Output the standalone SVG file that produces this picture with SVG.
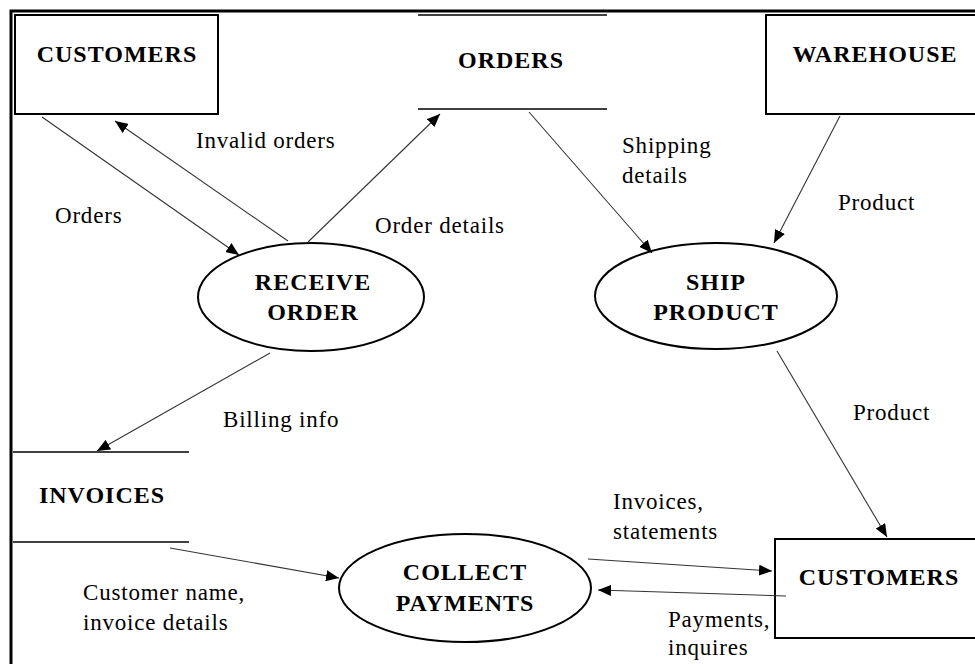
<svg xmlns="http://www.w3.org/2000/svg" width="975" height="664" viewBox="0 0 975 664">
  <style>
    .frame { stroke: #000; stroke-width: 3; fill: none; }
    .entity { fill: #fff; stroke: #000; stroke-width: 2; }
    .store { stroke: #000; stroke-width: 1.3; fill: none; }
    .process { fill: #fff; stroke: #000; stroke-width: 2; }
    .flow { stroke: #333; stroke-width: 1.1; fill: none; marker-end: url(#arrow); }
    .title { font-family: "Liberation Serif", "Times New Roman", serif; font-weight: bold; font-size: 24px; letter-spacing: 1px; fill: #000; text-anchor: middle; }
    .label { font-family: "Liberation Serif", "Times New Roman", serif; font-size: 23px; letter-spacing: 0.8px; fill: #000; }
  </style>
  <defs>
    <marker id="arrow" markerUnits="userSpaceOnUse" markerWidth="13" markerHeight="11" refX="13" refY="5.5" orient="auto">
      <path d="M0,0 L13,5.5 L0,11 z" fill="#000"/>
    </marker>
  </defs>

  <rect width="975" height="664" fill="#fff"/>

  <!-- page frame (open on the right and bottom) -->
  <path class="frame" d="M11,664 L11,11 L975,11"/>

  <!-- external entities -->
  <g id="customers-top">
    <rect class="entity" x="15" y="15" width="203" height="99"/>
    <text class="title" x="117" y="62">CUSTOMERS</text>
  </g>
  <g id="warehouse">
    <rect class="entity" x="766" y="15" width="210" height="99"/>
    <text class="title" x="875" y="62">WAREHOUSE</text>
  </g>
  <g id="customers-bottom">
    <rect class="entity" x="775" y="539" width="202" height="99"/>
    <text class="title" x="879" y="585">CUSTOMERS</text>
  </g>

  <!-- data stores -->
  <g id="orders-store">
    <line class="store" x1="418" y1="15" x2="607" y2="15"/>
    <line class="store" x1="418" y1="109" x2="607" y2="109"/>
    <text class="title" x="511" y="68">ORDERS</text>
  </g>
  <g id="invoices-store">
    <line class="store" x1="13" y1="452" x2="189" y2="452"/>
    <line class="store" x1="13" y1="542" x2="189" y2="542"/>
    <text class="title" x="102" y="503">INVOICES</text>
  </g>

  <!-- processes -->
  <g id="receive-order">
    <ellipse class="process" cx="311" cy="297" rx="113" ry="54"/>
    <text class="title" x="313" y="290">RECEIVE</text>
    <text class="title" x="313" y="320">ORDER</text>
  </g>
  <g id="ship-product">
    <ellipse class="process" cx="716" cy="296" rx="121" ry="53"/>
    <text class="title" x="716" y="290">SHIP</text>
    <text class="title" x="716" y="320">PRODUCT</text>
  </g>
  <g id="collect-payments">
    <ellipse class="process" cx="465" cy="588" rx="126" ry="54"/>
    <text class="title" x="465" y="580">COLLECT</text>
    <text class="title" x="465" y="611">PAYMENTS</text>
  </g>

  <!-- data flows -->
  <g id="flows">
    <line class="flow" x1="42" y1="117" x2="239" y2="255"/>
    <line class="flow" x1="288" y1="241" x2="115" y2="121"/>
    <line class="flow" x1="308" y1="242" x2="440" y2="114"/>
    <line class="flow" x1="529" y1="112" x2="652" y2="253"/>
    <line class="flow" x1="840" y1="116" x2="774" y2="243"/>
    <line class="flow" x1="777" y1="351" x2="887" y2="537"/>
    <line class="flow" x1="270" y1="353" x2="97" y2="451"/>
    <line class="flow" x1="170" y1="548" x2="339" y2="578"/>
    <line class="flow" x1="588" y1="559" x2="772" y2="571"/>
    <line class="flow" x1="786" y1="596" x2="598" y2="590"/>
  </g>

  <!-- flow labels -->
  <g id="labels">
    <text class="label" x="196" y="148">Invalid orders</text>
    <text class="label" x="55" y="223">Orders</text>
    <text class="label" x="375" y="233">Order details</text>
    <text class="label" x="622" y="153">Shipping</text>
    <text class="label" x="622" y="183">details</text>
    <text class="label" x="838" y="210">Product</text>
    <text class="label" x="853" y="420">Product</text>
    <text class="label" x="223" y="427">Billing info</text>
    <text class="label" x="613" y="509">Invoices,</text>
    <text class="label" x="613" y="539">statements</text>
    <text class="label" x="83" y="600">Customer name,</text>
    <text class="label" x="83" y="630">invoice details</text>
    <text class="label" x="668" y="627">Payments,</text>
    <text class="label" x="668" y="655">inquires</text>
  </g>
</svg>
